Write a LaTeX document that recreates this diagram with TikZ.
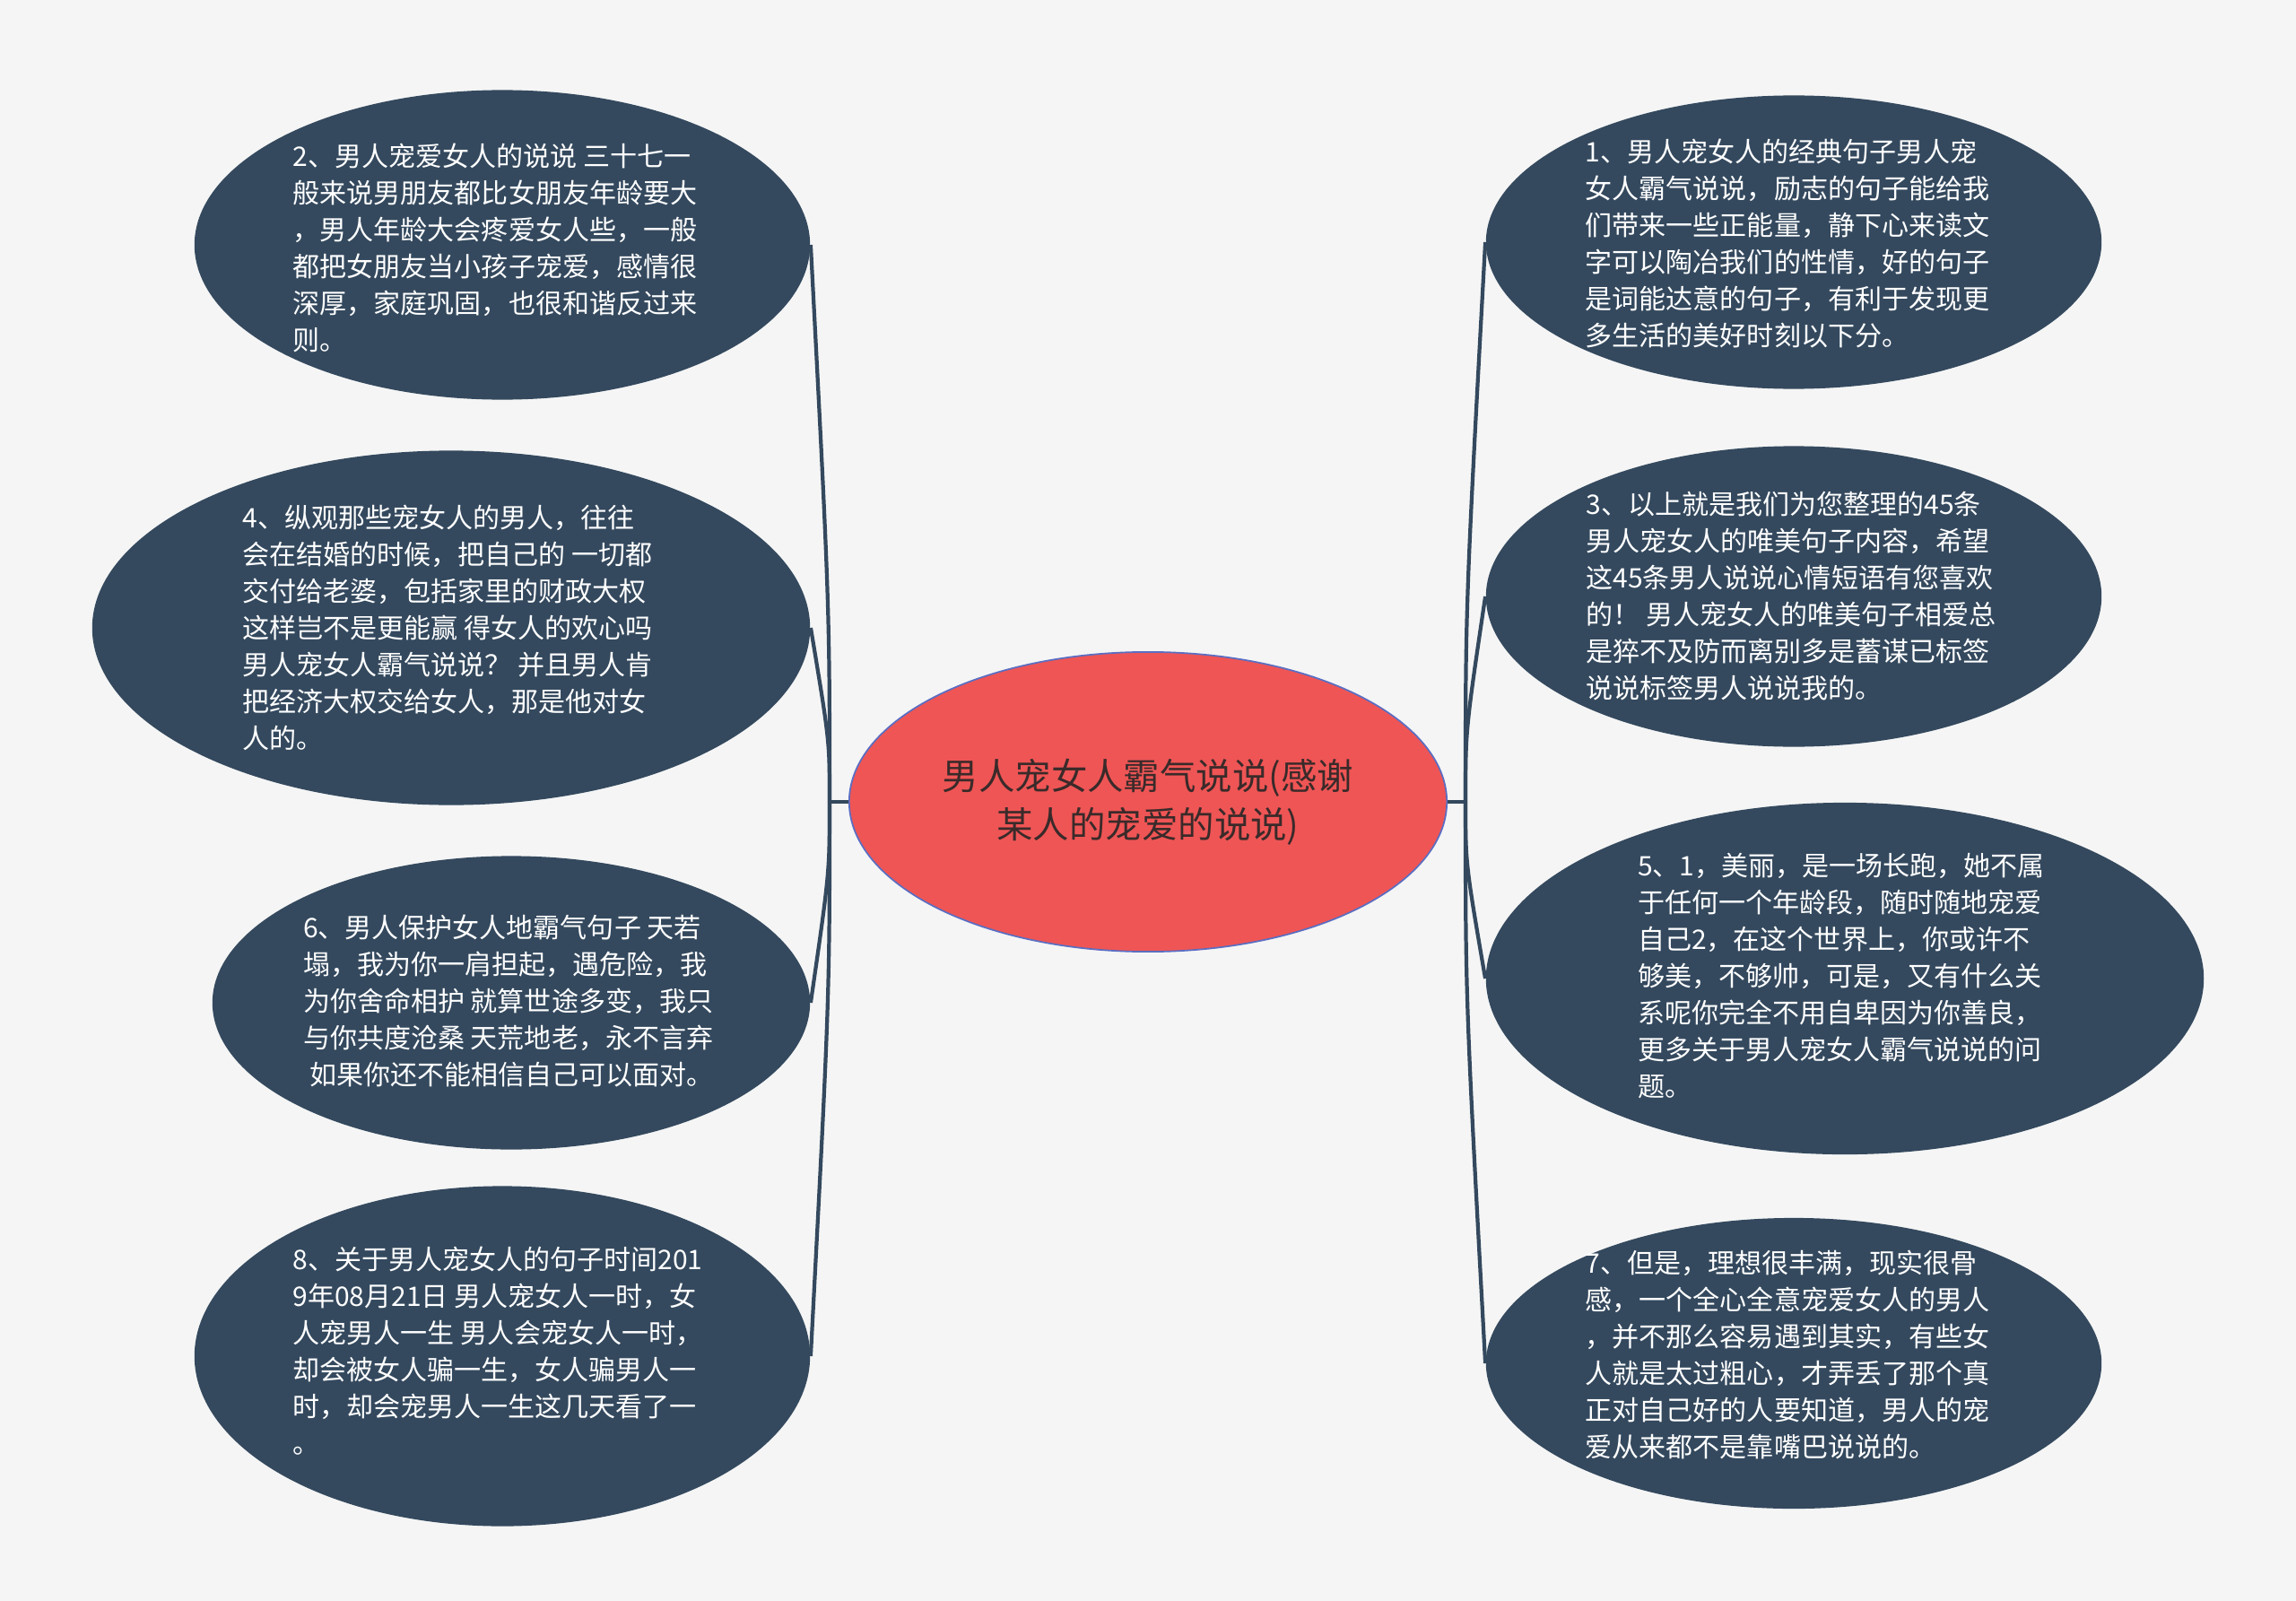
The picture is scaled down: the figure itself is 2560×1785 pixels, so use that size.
\documentclass[tikz,border=0pt]{standalone}
\usepackage{fontspec}
\setmainfont{Noto Sans CJK SC}
\usetikzlibrary{shapes.geometric, calc}
\definecolor{bgcol}{HTML}{F5F5F5}
\definecolor{bubblecol}{HTML}{34495E}
\definecolor{rootcol}{HTML}{EF5555}
\definecolor{rootedge}{HTML}{5B6EC2}
\definecolor{roottext}{HTML}{3A2A2A}

\begin{document}
\begin{tikzpicture}[x=0.01cm, y=-0.01cm,
	bubble/.style={ellipse, fill=bubblecol, inner sep=0pt},
	btext/.style={text=white, align=left, inner sep=0pt, font=\fontsize{8.54pt}{11.66pt}\selectfont},
	root/.style={ellipse, fill=rootcol, draw=rootedge, line width=0.5pt, inner sep=0pt,
		minimum width=6.66cm, minimum height=3.34cm, text=roottext, align=center,
		font=\fontsize{11.5pt}{15.4pt}\selectfont},
	link/.style={draw=bubblecol, line width=1.2pt}]
			% Sfondo
			\fill[bgcol] (0,0) rectangle (2560,1785);
			\useasboundingbox (0,0) rectangle (2560,1785);

			% Nodo centrale
			\node[root] (c) at (1280,894) {男人宠女人霸气说说(感谢\\某人的宠爱的说说)};
			\coordinate (jL) at (925,894);
			\coordinate (jR) at (1634,894);

			% Rami a sinistra
			\node[bubble, minimum width=6.86cm, minimum height=3.45cm] (b2) at (560,273) {};
			\node[btext] (t2) at (552,276) {2、男人宠爱女人的说说 三十七一\\般来说男朋友都比女朋友年龄要大\\，男人年龄大会疼爱女人些，一般\\都把女朋友当小孩子宠爱，感情很\\深厚，家庭巩固，也很和谐反过来\\则。};
			\node[bubble, minimum width=8cm, minimum height=3.95cm] (b4) at (503,700) {};
			\node[btext] (t4) at (499,700) {4、纵观那些宠女人的男人，往往\\会在结婚的时候，把自己的 一切都\\交付给老婆，包括家里的财政大权\\这样岂不是更能赢 得女人的欢心吗\\男人宠女人霸气说说？ 并且男人肯\\把经济大权交给女人，那是他对女\\人的。};
			\node[bubble, minimum width=6.66cm, minimum height=3.27cm] (b6) at (570,1118) {};
			\node[btext] (t6) at (567,1116) {6、男人保护女人地霸气句子 天若\\塌，我为你一肩担起，遇危险，我\\为你舍命相护 就算世途多变，我只\\与你共度沧桑 天荒地老，永不言弃\\\hspace{0.25em}如果你还不能相信自己可以面对。};
			\node[bubble, minimum width=6.86cm, minimum height=3.79cm] (b8) at (560,1512) {};
			\node[btext] (t8) at (555,1506) {8、关于男人宠女人的句子时间201\\9年08月21日 男人宠女人一时，女\\人宠男人一生 男人会宠女人一时，\\却会被女人骗一生，女人骗男人一\\时，却会宠男人一生这几天看了一\\。};

			% Rami a destra
			\node[bubble, minimum width=6.86cm, minimum height=3.27cm] (b1) at (2000,270) {};
			\node[btext] (t1) at (1993,272) {1、男人宠女人的经典句子男人宠\\女人霸气说说，励志的句子能给我\\们带来一些正能量，静下心来读文\\字可以陶冶我们的性情，好的句子\\是词能达意的句子，有利于发现更\\多生活的美好时刻以下分。};
			\node[bubble, minimum width=6.86cm, minimum height=3.35cm] (b3) at (2000,665) {};
			\node[btext] (t3) at (1997,665) {3、以上就是我们为您整理的45条\\男人宠女人的唯美句子内容，希望\\这45条男人说说心情短语有您喜欢\\的！ 男人宠女人的唯美句子相爱总\\是猝不及防而离别多是蓄谋已标签\\说说标签男人说说我的。};
			\node[bubble, minimum width=8cm, minimum height=3.92cm] (b5) at (2057,1091) {};
			\node[btext] (t5) at (2053,1088) {5、1，美丽，是一场长跑，她不属\\于任何一个年龄段，随时随地宠爱\\自己2，在这个世界上，你或许不\\够美，不够帅，可是，又有什么关\\系呢你完全不用自卑因为你善良，\\更多关于男人宠女人霸气说说的问\\题。};
			\node[bubble, minimum width=6.86cm, minimum height=3.24cm] (b7) at (2000,1520) {};
			\node[btext] (t7) at (1993,1511) {7、但是，理想很丰满，现实很骨\\感，一个全心全意宠爱女人的男人\\，并不那么容易遇到其实，有些女\\人就是太过粗心，才弄丢了那个真\\正对自己好的人要知道，男人的宠\\爱从来都不是靠嘴巴说说的。};

			% Collegamenti
			\draw[link] (c.west) -- (jL);
			\draw[link] (c.east) -- (jR);
			\foreach \b in {b2,b4,b6,b8}
				\draw[link] (jL) .. controls ($(jL)!0.35!(jL |- \b.east)$) .. (\b.east);
			\foreach \b in {b1,b3,b5,b7}
				\draw[link] (jR) .. controls ($(jR)!0.35!(jR |- \b.west)$) .. (\b.west);
		\end{tikzpicture}
\end{document}
